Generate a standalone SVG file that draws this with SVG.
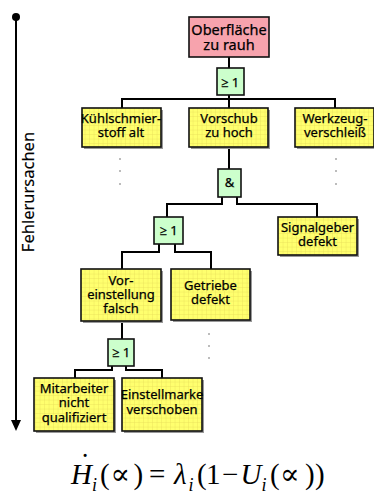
<svg xmlns="http://www.w3.org/2000/svg" width="374" height="494" viewBox="0 0 374 494">
<defs>
<pattern id="grid" width="4.5" height="4.5" patternUnits="userSpaceOnUse">
<rect width="4.5" height="4.5" fill="#ffff6e"/>
<path d="M4.5 0V4.5M0 4.5H4.5" stroke="#e6dc5a" stroke-width="0.7" fill="none"/>
</pattern>
<style>
.box{fill:url(#grid);stroke:#111;stroke-width:1.6}
.top{fill:#f7a3ad;stroke:#111;stroke-width:1.6}
.gate{fill:#ccffcc;stroke:#111;stroke-width:1.6}
.sh{fill:#999}
.t{font-family:"Noto Sans","Open Sans",sans-serif;font-size:13px;fill:#000;stroke:#000;stroke-width:0.25;text-anchor:middle}
.big{font-size:14.5px}
.c{fill:none;stroke:#000;stroke-width:2}
.dot{fill:#666}
.m{font-family:"Liberation Serif","DejaVu Serif",serif;font-size:29px;fill:#000}
.mi{font-style:italic}
.sub{font-size:18px;font-style:italic}
</style>
</defs>
<rect width="374" height="494" fill="#fff"/>

<g id="axis">
<circle cx="16" cy="17" r="4" fill="#000"/>
<line x1="16" y1="17" x2="16" y2="422" stroke="#000" stroke-width="2"/>
<polygon points="11,420 21,420 16,431" fill="#000"/>
<text class="t" style="font-size:16.5px;stroke-width:0.15" transform="translate(34,192) rotate(-90)">Fehlerursachen</text>
</g>

<g id="connectors">
<path class="c" d="M229 57V68M229 95V99M122 108V99H335V108M229 99V108"/>
<path class="c" d="M229 147V169"/>
<path class="c" d="M222 197V204H167V217M237 197V204H317V217"/>
<path class="c" d="M159 244V252H122V269M175 244V252H211V269"/>
<path class="c" d="M122 321V339"/>
<path class="c" d="M112 366V370H75V378M126 366V370H162V378"/>
</g>

<g id="dots">
<circle class="dot" cx="120" cy="159" r="0.8"/><circle class="dot" cx="120" cy="171" r="0.8"/><circle class="dot" cx="120" cy="184" r="0.8"/>
<circle class="dot" cx="336" cy="159" r="0.8"/><circle class="dot" cx="336" cy="171" r="0.8"/><circle class="dot" cx="336" cy="184" r="0.8"/>
<circle class="dot" cx="209" cy="334" r="0.8"/><circle class="dot" cx="209" cy="346" r="0.8"/><circle class="dot" cx="209" cy="358" r="0.8"/>
</g>

<g id="n_oberflaeche">
<rect class="top" x="189" y="17" width="80" height="40"/>
<text class="t big" x="229" y="35">Oberfläche</text>
<text class="t big" x="229" y="50">zu rauh</text>
</g>
<g id="g_or1">
<rect class="gate" x="217" y="68" width="27" height="27"/>
<text class="t" x="230" y="87">≥ 1</text>
</g>

<g id="n_kuehl">
<rect class="sh" x="84" y="110" width="79" height="39"/>
<rect class="box" x="82" y="108" width="79" height="39"/>
<text class="t" x="121" y="123">Kühlschmier-</text>
<text class="t" x="121" y="137">stoff alt</text>
</g>
<g id="n_vorschub">
<rect class="sh" x="191" y="110" width="79" height="39"/>
<rect class="box" x="189" y="108" width="79" height="39"/>
<text class="t" x="229" y="123">Vorschub</text>
<text class="t" x="229" y="137">zu hoch</text>
</g>
<g id="n_werkzeug">
<rect class="sh" x="297" y="110" width="79" height="39"/>
<rect class="box" x="295" y="108" width="79" height="39"/>
<text class="t" x="335" y="123">Werkzeug-</text>
<text class="t" x="335" y="137">verschleiß</text>
</g>

<g id="g_and">
<rect class="gate" x="218" y="169" width="23" height="28"/>
<text class="t" x="229.5" y="187">&amp;</text>
</g>

<g id="g_or2">
<rect class="gate" x="154" y="217" width="29" height="27"/>
<text class="t" x="168.5" y="235">≥ 1</text>
</g>
<g id="n_signal">
<rect class="sh" x="280" y="219" width="79" height="38"/>
<rect class="box" x="278" y="217" width="79" height="38"/>
<text class="t" x="317.5" y="232">Signalgeber</text>
<text class="t" x="317.5" y="246">defekt</text>
</g>

<g id="n_vorein">
<rect class="sh" x="83" y="271" width="80" height="52"/>
<rect class="box" x="81" y="269" width="80" height="52"/>
<text class="t" x="121" y="285">Vor-</text>
<text class="t" x="121" y="299">einstellung</text>
<text class="t" x="121" y="313">falsch</text>
</g>
<g id="n_getriebe">
<rect class="sh" x="173" y="271" width="79" height="51"/>
<rect class="box" x="171" y="269" width="79" height="51"/>
<text class="t" x="210.5" y="290">Getriebe</text>
<text class="t" x="210.5" y="304">defekt</text>
</g>

<g id="g_or3">
<rect class="gate" x="108" y="339" width="26" height="27"/>
<text class="t" x="121" y="357">≥ 1</text>
</g>

<g id="n_mitarbeiter">
<rect class="sh" x="36" y="380" width="80" height="53"/>
<rect class="box" x="34" y="378" width="80" height="53"/>
<text class="t" x="74" y="393">Mitarbeiter</text>
<text class="t" x="74" y="407">nicht</text>
<text class="t" x="74" y="422">qualifiziert</text>
</g>
<g id="n_einstell">
<rect class="sh" x="124" y="380" width="80" height="53"/>
<rect class="box" x="122" y="378" width="80" height="53"/>
<text class="t" x="162" y="399">Einstellmarke</text>
<text class="t" x="162" y="414">verschoben</text>
</g>

<g id="formula">
<text class="m"><tspan class="mi" x="71" y="484">H</tspan><tspan class="sub" x="92" y="491">i</tspan><tspan x="100" y="484">(</tspan><tspan x="110.5">∝</tspan><tspan x="133.5">)</tspan><tspan x="149">=</tspan><tspan class="mi" x="174">λ</tspan><tspan class="sub" x="188.5" y="491">i</tspan><tspan x="197" y="484">(</tspan><tspan x="206">1</tspan><tspan x="222">−</tspan><tspan class="mi" x="240.5">U</tspan><tspan class="sub" x="261.5" y="491">i</tspan><tspan x="270" y="484">(</tspan><tspan x="280">∝</tspan><tspan x="305">)</tspan><tspan x="315">)</tspan></text>
<text class="m" x="85" y="474" text-anchor="middle">˙</text>
</g>
</svg>
